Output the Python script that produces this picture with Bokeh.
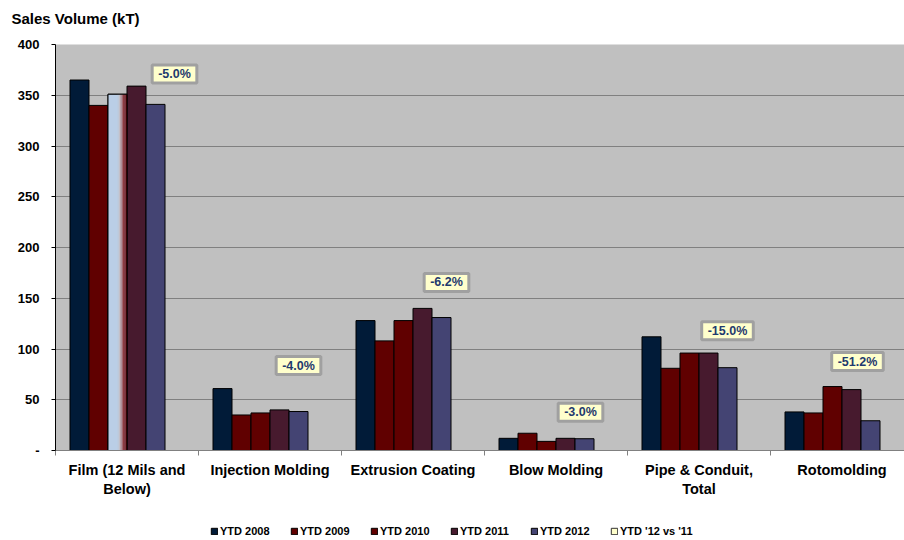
from bokeh.plotting import figure
from bokeh.layouts import column
from bokeh.models import ColumnDataSource, Range1d, FixedTicker, Legend, LegendItem, Label
from bokeh.embed import file_html
from bokeh.resources import INLINE

# ---------------- data ----------------
title_text = "Sales Volume (kT)"
categories = ["Film (12 Mils and\nBelow)", "Injection Molding", "Extrusion Coating",
              "Blow Molding", "Pipe & Conduit,\nTotal", "Rotomolding"]
series_names = ["YTD 2008", "YTD 2009", "YTD 2010", "YTD 2011", "YTD 2012", "YTD '12 vs '11"]
ytd_2008 = [365, 61, 128, 12, 112, 38]
ytd_2009 = [340, 35, 108, 17, 81, 37]
ytd_2010 = [351, 37, 128, 9, 96, 63]
ytd_2011 = [359, 40, 140, 12, 96, 60]
ytd_2012 = [341, 38.4, 131, 11.6, 81.6, 29.3]
ytd_change_pct = [-5.0, -4.0, -6.2, -3.0, -15.0, -51.2]
y_ticks = [0, 50, 100, 150, 200, 250, 300, 350, 400]
y_tick_labels = ["-", "50", "100", "150", "200", "250", "300", "350", "400"]

# ---------------- style ----------------
FONT = "Liberation Sans"
series_colors = ["#011B38", "#600000", "#600000", "#471A2E", "#444473", "#FFFFCC"]
line_colors = ["#000000"] * 5 + ["#333333"]
W = 904
H_TITLE, H_MAIN, H_LEG = 36, 469, 35
LEFT, TOP, BOTTOM = 55, 8, 55
CAT_PX = 143.0
x_end = (W - LEFT) / CAT_PX
bar_w = 19.0 / CAT_PX

# title strip
pt = figure(width=W, height=H_TITLE, x_range=Range1d(0, 1), y_range=Range1d(0, 1),
            output_backend="svg", toolbar_location=None, x_axis_type=None, y_axis_type=None,
            min_border=0, outline_line_color=None, background_fill_color="white",
            border_fill_color="white")
pt.xgrid.grid_line_color = None
pt.ygrid.grid_line_color = None
pt.title.text = title_text
pt.title.text_font = FONT
pt.title.text_font_size = "15px"
pt.title.text_font_style = "bold"
pt.title.text_color = "#000000"
pt.title.align = "left"
pt.title.offset = -44
pt.title.standoff = 14

# main chart
p = figure(width=W, height=H_MAIN, x_range=Range1d(0, x_end), y_range=Range1d(0, 400),
           output_backend="svg", toolbar_location=None,
           min_border_left=LEFT, min_border_right=0, min_border_top=TOP,
           min_border_bottom=BOTTOM, background_fill_color="#C0C0C0",
           border_fill_color="white", outline_line_color=None)

# grid
p.xgrid.grid_line_color = None
p.ygrid.grid_line_color = "#808080"
p.ygrid.grid_line_width = 1
p.ygrid.ticker = FixedTicker(ticks=y_ticks)

# y axis
p.yaxis.ticker = FixedTicker(ticks=y_ticks)
p.yaxis.major_label_overrides = dict(zip(y_ticks, y_tick_labels))
p.yaxis.axis_line_color = "#000000"
p.yaxis.major_tick_line_color = "#000000"
p.yaxis.major_tick_out = 4
p.yaxis.major_tick_in = 0
p.yaxis.minor_tick_line_color = None
p.yaxis.major_label_standoff = 12
p.yaxis.major_label_text_font = FONT
p.yaxis.major_label_text_font_style = "bold"
p.yaxis.major_label_text_font_size = "13px"
p.yaxis.major_label_text_color = "#000000"

# x axis
centers = [i + 0.5 for i in range(len(categories))]
bounds = [float(i) for i in range(len(categories) + 1)]
p.xaxis.ticker = FixedTicker(ticks=centers, minor_ticks=bounds)
p.xaxis.major_label_overrides = dict(zip(centers, categories))
p.xaxis.axis_line_color = "#808080"
p.xaxis.major_tick_line_color = None
p.xaxis.major_tick_out = 0
p.xaxis.major_tick_in = 0
p.xaxis.minor_tick_line_color = "#808080"
p.xaxis.minor_tick_out = 5
p.xaxis.minor_tick_in = 0
p.xaxis.major_label_standoff = 6
p.xaxis.major_label_text_font = FONT
p.xaxis.major_label_text_font_style = "bold"
p.xaxis.major_label_text_font_size = "14.5px"
p.xaxis.major_label_text_color = "#000000"
p.xaxis.major_label_text_align = "center"

# bars
all_series = [ytd_2008, ytd_2009, ytd_2010, ytd_2011, ytd_2012,
              [v / 100.0 for v in ytd_change_pct]]
bar_x = []
sources = []
for k, vals in enumerate(all_series):
    xs = [i + 0.5 + (k - 2.5) * bar_w for i in range(len(categories))]
    bar_x.append(xs)
    src = ColumnDataSource(dict(x=xs, top=vals))
    sources.append(src)
    p.vbar(x="x", top="top", bottom=0, width=bar_w, source=src,
           fill_color=series_colors[k], line_color=line_colors[k], line_width=1)

# special formatting of the Film YTD 2010 bar (light blue with gradient at right)
fx = bar_x[2][0]
ftop = ytd_2010[0]
p.vbar(x=[fx], top=[ftop], bottom=0, width=bar_w, fill_color="#BACEE6", line_color=None)
grad = ["#BCCBDD", "#C4C0C8", "#B89A9E", "#A46A70", "#8C3A40", "#741820", "#640606"]
n = len(grad)
strip_w = bar_w * 0.5 / n
for j, c in enumerate(grad):
    sx = fx + (j + 0.5) * strip_w
    p.vbar(x=[sx], top=[ftop], bottom=0, width=strip_w * 1.05, fill_color=c, line_color=None)
p.vbar(x=[fx], top=[ftop], bottom=0, width=bar_w, fill_color=None, line_color="#000000", line_width=1)

# data labels of the change series
label_dx = [0, -19, -14, -23, -19, -32]
label_dy = [6, 23, 26, 21, 6, 25]
for i, pct in enumerate(ytd_change_pct):
    top = max(s[i] for s in all_series[:5])
    lab = Label(x=bar_x[5][i], y=top, x_offset=label_dx[i], y_offset=label_dy[i],
                text=f"{pct:.1f}%", text_align="center", text_baseline="middle",
                text_font=FONT, text_font_style="bold", text_font_size="12.5px",
                text_color="#1F3A6E", background_fill_color="#FFFFCC",
                border_line_color="#A0A0A0", border_line_width=3, padding=(6, 2))
    p.add_layout(lab)

# legend strip (separate small figure under the chart; its frame is aligned with the chart's)
pl = figure(width=W, height=H_LEG, x_range=Range1d(-100, -99), y_range=Range1d(0, 1),
            output_backend="svg", toolbar_location=None, x_axis_type=None, y_axis_type=None,
            min_border=0, outline_line_color=None, background_fill_color="white",
            border_fill_color="white")
pl.xgrid.grid_line_color = None
pl.ygrid.grid_line_color = None
items = []
for k, name in enumerate(series_names):
    r = pl.vbar(x="x", top="top", bottom=0, width=bar_w, source=sources[k],
                fill_color=series_colors[k], line_color=line_colors[k], line_width=1)
    items.append(LegendItem(label=name, renderers=[r]))
legend = Legend(items=items, orientation="horizontal", location=(155, 3),
                label_text_font=FONT, label_text_font_style="bold",
                label_text_font_size="11px", label_text_color="#000000",
                glyph_width=8, glyph_height=8, label_standoff=2, spacing=18,
                label_width=52, label_height=12, padding=0, margin=0,
                border_line_color=None, background_fill_alpha=0)
pl.add_layout(legend)

layout = column(pt, p, pl, spacing=0)
open("out.html", "w").write(file_html(layout, INLINE))
